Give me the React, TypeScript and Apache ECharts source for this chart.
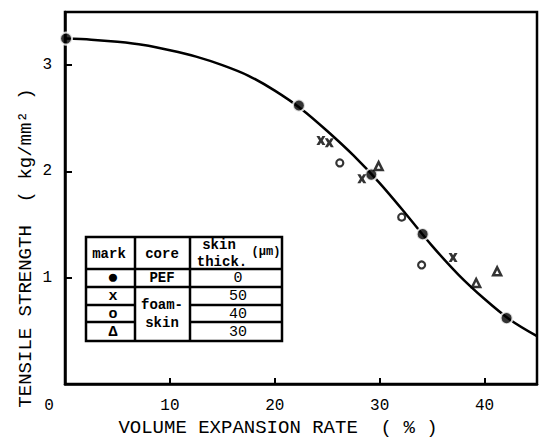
import React, { useEffect, useRef } from "react";
import * as echarts from "echarts";

// Fitted curve (volume expansion rate %, tensile strength kg/mm2), read every 2.5 %
const curveX = [0, 2.5, 5, 7.5, 10, 12.5, 15, 17.5, 20, 22.5, 25, 27.5, 30, 32.5, 35, 37.5, 40, 42.5, 45];
const curveY = [3.25, 3.24, 3.22, 3.19, 3.14, 3.08, 3.0, 2.9, 2.76, 2.59, 2.38, 2.15, 1.89, 1.6, 1.3, 1.03, 0.8, 0.6, 0.45];

// PEF core (skin 0 um)
const pefX = [0.1, 22.3, 29.2, 34.1, 42.1];
const pefY = [3.25, 2.62, 1.97, 1.41, 0.62];
// foam-skin, 50 um
const skin50X = [24.4, 25.2, 28.3, 37.0];
const skin50Y = [2.29, 2.27, 1.93, 1.19];
// foam-skin, 40 um
const skin40X = [26.2, 32.1, 34.0];
const skin40Y = [2.08, 1.57, 1.12];
// foam-skin, 30 um
const skin30X = [29.9, 39.2, 41.2];
const skin30Y = [2.05, 0.95, 1.06];

const xTicks = [10, 20, 30, 40];
const yTicks = [1, 2, 3];

const xTitle = "VOLUME EXPANSION RATE  ( % )";
const yTitle = "TENSILE STRENGTH  ( kg/mm² )";

const tableHeader = ["mark", "core", "skin", "thick.", "(μm)"];
const tableMarks = ["●", "x", "o", "Δ"];
const tableCores = ["PEF", "foam-", "skin"];
const tableThick = ["0", "50", "40", "30"];

const X_SYMBOL = "path://M0,0L3.4,0L5,2.6L6.6,0L10,0L7,5L10,10L6.6,10L5,7.4L3.4,10L0,10L3,5Z";
const MONO = "'Liberation Mono', 'DejaVu Sans Mono', monospace";

const pairs = (xs: number[], ys: number[]) => xs.map((x, i) => [x, ys[i]]);

export default function App() {
  const ref = useRef<HTMLDivElement>(null);
  useEffect(() => {
    if (!ref.current) return;
    const chart = echarts.init(ref.current, null, { renderer: "svg" });

    const L = 86, R = 282, T = 237, B = 341;
    const c1 = 135, c2 = 190;
    const r1 = 269, r2 = 287, r3 = 305, r4 = 322;
    const lw = 2.5;
    const ln = (x1: number, y1: number, x2: number, y2: number) => ({
      type: "line",
      shape: { x1, y1, x2, y2 },
      style: { stroke: "#000", lineWidth: lw },
      z: 10,
    });
    const txt = (x: number, y: number, s: string, size = 14, weight: any = "bold", rotation = 0) => ({
      type: "text",
      x,
      y,
      rotation,
      style: {
        text: s,
        font: `${weight} ${size}px ${MONO}`,
        fill: "#000",
        align: "center",
        verticalAlign: "middle",
        textAlign: "center",
        textVerticalAlign: "middle",
      },
      z: 11,
    });

    const rowsY = [278, 296, 314, 332];

    chart.setOption({
      animation: false,
      backgroundColor: "#fff",
      grid: {
        left: 65,
        right: 6,
        top: 12,
        bottom: 55,
        show: true,
        borderColor: "#000",
        borderWidth: 2.5,
      },
      xAxis: {
        type: "value",
        min: 0,
        max: 45,
        interval: 10,
        splitLine: { show: false },
        axisLine: { show: true, lineStyle: { color: "#000", width: 2.5 } },
        axisTick: { show: true, inside: true, length: 6, lineStyle: { color: "#000", width: 2 } },
        axisLabel: {
          margin: 14,
          color: "#000",
          fontFamily: MONO,
          fontSize: 16,
          formatter: (v: number) => (xTicks.includes(v) ? String(v) : ""),
        },
      },
      yAxis: {
        type: "value",
        min: 0,
        max: 3.5,
        interval: 1,
        splitLine: { show: false },
        axisLine: { show: true, lineStyle: { color: "#000", width: 2.5 } },
        axisTick: { show: true, inside: true, length: 7, lineStyle: { color: "#000", width: 2 } },
        axisLabel: {
          margin: 13,
          color: "#000",
          fontFamily: MONO,
          fontSize: 16,
          formatter: (v: number) => (yTicks.includes(v) ? String(v) : ""),
        },
      },
      graphic: [
        txt(49, 406, "0", 16, "normal"),
        txt(278, 428, xTitle, 19, "normal"),
        txt(26, 248, yTitle, 19, "normal", Math.PI / 2),
        {
          type: "rect",
          shape: { x: L, y: T, width: R - L, height: B - T },
          style: { fill: "#fff", stroke: "#000", lineWidth: lw },
          z: 9,
        },
        ln(c1, T, c1, B),
        ln(c2, T, c2, B),
        ln(L, r1, R, r1),
        ln(L, r2, R, r2),
        ln(L, r3, c1, r3),
        ln(c2, r3, R, r3),
        ln(L, r4, c1, r4),
        ln(c2, r4, R, r4),
        txt(109, 254, tableHeader[0]),
        txt(162, 254, tableHeader[1]),
        txt(219, 245, tableHeader[2]),
        txt(222, 262, tableHeader[3]),
        txt(266, 252, tableHeader[4], 12),
        ...tableMarks.map((m, i) => txt(113, rowsY[i], m, i === 0 ? 19 : 15)),
        txt(162, rowsY[0], tableCores[0]),
        txt(162, 305, tableCores[1]),
        txt(162, 323, tableCores[2]),
        ...tableThick.map((t, i) => txt(238, rowsY[i], t, 15, "normal")),
      ],
      series: [
        {
          type: "line",
          data: pairs(curveX, curveY),
          smooth: 0.3,
          showSymbol: false,
          symbol: "none",
          lineStyle: { color: "#000", width: 2.5 },
          z: 1,
        },
        {
          type: "scatter",
          data: pairs(pefX, pefY),
          symbol: "circle",
          symbolSize: 12,
          itemStyle: { color: "#000", borderColor: "#fff", borderWidth: 2 },
          z: 3,
        },
        {
          type: "scatter",
          data: pairs(skin50X, skin50Y),
          symbol: X_SYMBOL,
          symbolSize: 9,
          itemStyle: { color: "#000" },
          z: 3,
        },
        {
          type: "scatter",
          data: pairs(skin40X, skin40Y),
          symbol: "circle",
          symbolSize: 7,
          itemStyle: { color: "#fff", borderColor: "#000", borderWidth: 2.2 },
          z: 3,
        },
        {
          type: "scatter",
          data: pairs(skin30X, skin30Y),
          symbol: "triangle",
          symbolSize: 8,
          itemStyle: { color: "#fff", borderColor: "#000", borderWidth: 2.5 },
          z: 3,
        },
      ],
    });
    return () => chart.dispose();
  }, []);
  return (
    <div
      ref={ref}
      style={{ position: "fixed", left: 0, top: 0, width: 543, height: 439, background: "#fff" }}
    />
  );
}
